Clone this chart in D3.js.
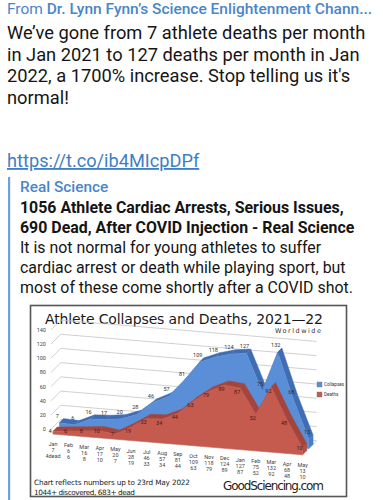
<!DOCTYPE html>
<html><head><meta charset="utf-8">
<script src="https://cdn.jsdelivr.net/npm/d3@7"></script>
<style>html,body{margin:0;padding:0;background:#fff;overflow:hidden}</style>
</head><body>
<svg id="c" width="383" height="500"></svg>
<script>
// ---- data ----
const months = ["Jan","Feb","Mar","Apr","May","Jun","Jul","Aug","Sep","Oct","Nov","Dec","Jan","Feb","Mar","Apr","May"];
const collapses = [7,6,16,17,20,28,46,57,81,109,118,124,127,75,132,68,13];
const deaths = [4,6,8,10,7,19,33,34,44,63,79,89,87,52,92,48,10];
const yTicks = [0,20,40,60,80,100,120,140];
const seriesNames = ["Collapses","Deaths"];
const headerText = "Dr. Lynn Fynn’s Science Enlightenment Chann...";
const postLines = ["We’ve gone from 7 athlete deaths per month","in Jan 2021 to 127 deaths per month in Jan","2022, a 1700% increase. Stop telling us it's","normal!"];
const linkText = "https://t.co/ib4MIcpDPf";
const quoteBold = ["1056 Athlete Cardiac Arrests, Serious Issues,","690 Dead, After COVID Injection - Real Science"];
const quoteBody = ["It is not normal for young athletes to suffer","cardiac arrest or death while playing sport, but","most of these come shortly after a COVID shot."];
const chartTitle = "Athlete Collapses and Deaths, 2021\u201422";
const footLines = ["Chart reflects numbers up to 23rd May 2022","1044+ discovered, 683+ dead"];

const svg = d3.select("#c");
const F = "Roboto, 'Noto Sans', sans-serif";

// ---- post text ----
const hdr = svg.append("text").attr("x",7).attr("y",13.5).attr("font-family",F).attr("font-size",15.5).attr("fill","#4a86c8");
hdr.append("tspan").text("From ");
hdr.append("tspan").attr("font-weight",500).text(headerText);
svg.selectAll("text.post").data(postLines).join("text").attr("class","post")
  .attr("x",7).attr("y",(d,i)=>39+i*21.5).attr("font-family",F).attr("font-size",18.3).attr("fill","#151515").text(d=>d);
svg.append("text").attr("x",7).attr("y",167).attr("font-family",F).attr("font-size",18.2)
  .attr("fill","#3e7ec4").attr("text-decoration","underline").text(linkText);
svg.append("rect").attr("x",8).attr("y",177).attr("width",2.2).attr("height",323).attr("fill","#6ea0dc");
svg.append("text").attr("x",20).attr("y",192).attr("font-family",F).attr("font-size",15.4).attr("font-weight",500).attr("fill","#4a86c8").text("Real Science");
svg.selectAll("text.qb").data(quoteBold).join("text").attr("class","qb")
  .attr("x",20).attr("y",(d,i)=>213+i*20).attr("font-family",F).attr("font-size",15.9).attr("font-weight",700).attr("fill","#151515").text(d=>d);
svg.selectAll("text.qn").data(quoteBody).join("text").attr("class","qn")
  .attr("x",20).attr("y",(d,i)=>253+i*20).attr("font-family",F).attr("font-size",15.9).attr("fill","#151515").text(d=>d);

// ---- chart frame ----
svg.append("rect").attr("x",30.5).attr("y",305.5).attr("width",316).attr("height",191)
  .attr("fill","#fff").attr("stroke","#555").attr("stroke-width",1.6);
svg.append("text").attr("x",45).attr("y",324).attr("font-family","'DejaVu Sans', sans-serif").attr("font-size",14)
  .attr("fill","#1a1a1a").attr("textLength",278).attr("lengthAdjust","spacing").text(chartTitle);
svg.append("text").attr("x",275).attr("y",333).attr("font-family","'DejaVu Sans', sans-serif").attr("font-size",6.5)
  .attr("fill","#333").attr("textLength",46).attr("lengthAdjust","spacing").text("Worldwide");

// ---- 3D projection via scales ----
const n = months.length;
const xs = d3.scaleLinear().domain([0,n-1]).range([0,249.6]);
const ys = d3.scaleLinear().domain([0,140]).range([0,99.4]);
const X0 = 53, Y0 = 434, slope = 1.3/15.6, DDX = 14, DDY = 14;
function P(i,v,d){ return [X0 + xs(i) + d*DDX, Y0 + xs(i)*slope - ys(v) - d*DDY]; }
const line = d3.line();
const g = svg.append("g");

// gridlines (left wall + back wall)
const iL = -0.4, dLab = 0.3;
yTicks.forEach(t=>{
  g.append("path").attr("d", line([P(iL,t,dLab),P(iL,t,1),P(n-1,t,1)]))
   .attr("fill","none").attr("stroke","#c4c4c4").attr("stroke-width",0.8);
});
g.selectAll("text.yt").data(yTicks).join("text").attr("class","yt")
  .attr("x",t=>P(iL,t,dLab)[0]-5).attr("y",t=>P(iL,t,dLab)[1]+2)
  .attr("text-anchor","end").attr("font-family",F).attr("font-size",5.5).attr("fill","#444").text(t=>t);
// floor edge
g.append("path").attr("d", line([P(iL,0,dLab),P(0,0,0),P(n-1,0,0),P(n-1,0,1)]))
  .attr("fill","none").attr("stroke","#c8c8c8").attr("stroke-width",0.8);

function drawSeries(vals, d0, d1, cFront, cTop, cSide){
  const sg = g.append("g");
  for(let i=0;i<n-1;i++){
    sg.append("path").attr("d", line([P(i,vals[i],d0),P(i+1,vals[i+1],d0),P(i+1,vals[i+1],d1),P(i,vals[i],d1)])+"Z")
      .attr("fill",cTop).attr("stroke",cTop).attr("stroke-width",0.4);
  }
  sg.append("path").attr("d", line([P(n-1,0,d0),P(n-1,vals[n-1],d0),P(n-1,vals[n-1],d1),P(n-1,0,d1)])+"Z")
    .attr("fill",cSide).attr("stroke",cSide).attr("stroke-width",0.4);
  const pts = vals.map((v,i)=>P(i,v,d0)).concat([P(n-1,0,d0),P(0,0,d0)]);
  sg.append("path").attr("d", line(pts)+"Z").attr("fill",cFront).attr("stroke",cFront).attr("stroke-width",0.4);
}
drawSeries(collapses, 0.45, 0.75, "#5a8ed6", "#3f6cb3", "#4a7cc4");
drawSeries(deaths, 0, 0.3, "#c55a4e", "#a6443b", "#b24d44");

// data labels
g.selectAll("text.cl").data(collapses).join("text").attr("class","cl")
  .attr("x",(v,i)=>P(i,v,0.45)[0]-2).attr("y",(v,i)=>P(i,v,0.45)[1]-5)
  .attr("text-anchor","middle").attr("font-family",F).attr("font-size",5.5).attr("fill","#333").text(v=>v);
g.selectAll("text.dl").data(deaths).join("text").attr("class","dl")
  .attr("x",(v,i)=>P(i,v,0)[0]-3).attr("y",(v,i)=>P(i,v,0)[1]+(v<15?2:6))
  .attr("text-anchor","middle").attr("font-family",F).attr("font-size",5.5).attr("fill","#4a1a14").text(v=>v);

// category labels
months.forEach((m,i)=>{
  const p = P(i,0,0);
  const t = g.append("text").attr("x",p[0]).attr("y",p[1]+12).attr("text-anchor","middle")
    .attr("font-family",F).attr("font-size",5.5).attr("fill","#444");
  t.append("tspan").attr("x",p[0]).text(m);
  t.append("tspan").attr("x",p[0]).attr("dy",6).text(collapses[i]);
  t.append("tspan").attr("x",p[0]).attr("dy",6).text(i===0? deaths[i]+"dead" : deaths[i]);
});

// legend
const lg = svg.append("g");
[["#5a8ed6",382],["#c55a4e",392]].forEach((c,k)=>{
  lg.append("rect").attr("x",317).attr("y",c[1]).attr("width",5).attr("height",5).attr("fill",c[0]).attr("stroke","#777").attr("stroke-width",0.4);
  lg.append("text").attr("x",324).attr("y",c[1]+4.3).attr("font-family",F).attr("font-size",4.6).attr("fill","#333").text(seriesNames[k]);
});

// footer
svg.selectAll("text.ft").data(footLines).join("text").attr("class","ft")
  .attr("x",34).attr("y",(d,i)=>485+i*9.5).attr("font-family","'DejaVu Sans', sans-serif").attr("font-size",7.3)
  .attr("fill","#222").attr("textLength",(d,i)=>i?101:156).attr("lengthAdjust","spacing").text(d=>d);
svg.append("text").attr("x",223).attr("y",490).attr("font-family","'DejaVu Sans', sans-serif").attr("font-size",12)
  .attr("fill","#222").attr("textLength",101).attr("lengthAdjust","spacing").text("GoodSciencing.com");
</script>
</body></html>
